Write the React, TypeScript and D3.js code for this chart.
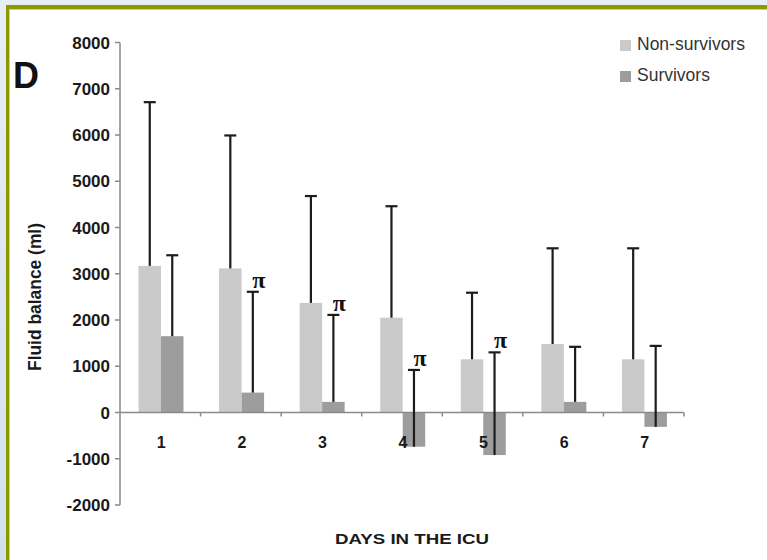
import React from 'react'
import * as d3 from 'd3'

// days in the ICU
const days = ['1', '2', '3', '4', '5', '6', '7']

// mean fluid balance (ml) and mean + SD (top of the error bar)
const nonSurvivors = [3170, 3115, 2370, 2050, 1150, 1480, 1150]
const nonSurvivorsUpper = [6710, 5990, 4680, 4460, 2590, 3550, 3550]
const survivors = [1650, 430, 230, -740, -920, 230, -310]
const survivorsUpper = [3400, 2610, 2110, 920, 1300, 1420, 1440]

// days where survivors differ significantly (π marker)
const significant = ['2', '3', '4', '5']

const yTicks = [8000, 7000, 6000, 5000, 4000, 3000, 2000, 1000, 0, -1000, -2000]

const seriesNames = ['Non-survivors', 'Survivors']
const colors = ['#cacaca', '#9d9d9d']

const W = 767
const H = 560
const FONT = 'Liberation Sans, Arial, sans-serif'

export default function App () {
  const x = d3.scaleBand().domain(days).range([120, 684])
  const y = d3.scaleLinear().domain([-2000, 8000]).range([505, 42.5])
  const inner = d3.scaleBand().domain(seriesNames).range([0, 45])
  const offset = 18.5
  const bw = inner.bandwidth()
  const y0 = y(0)

  const series = [
    { name: seriesNames[0], values: nonSurvivors, upper: nonSurvivorsUpper },
    { name: seriesNames[1], values: survivors, upper: survivorsUpper }
  ]

  const barX = (day: string, name: string) => (x(day) as number) + offset + (inner(name) as number)

  return (
    <svg width={W} height={H} style={{ position: 'absolute', left: 0, top: 0 }} fontFamily={FONT}>
      <defs>
        <linearGradient id='bg' x1='0' y1='0' x2='0' y2='1'>
          <stop offset='0' stopColor='#e8eef5' />
          <stop offset='1' stopColor='#d3e0ec' />
        </linearGradient>
      </defs>
      <rect width={W} height={H} fill='url(#bg)' />
      <rect x={6} y={5} width={W - 6} height={H - 5} fill='#8a9a00' />
      <rect x={9} y={9} width={W - 9} height={H - 9} fill='#c8d480' />
      <rect x={10} y={10} width={W - 10} height={H - 10} fill='#fff' />

      <text x={13} y={88} fontSize={36} fontWeight='bold' fill='#111'>D</text>

      {/* bars */}
      {series.map((s, si) => s.values.map((v, i) => (
        <rect
          key={s.name + i}
          x={barX(days[i], s.name)}
          y={Math.min(y(v), y0)}
          width={bw}
          height={Math.abs(y(v) - y0)}
          fill={colors[si]}
        />
      )))}

      {/* axes */}
      <g stroke='#8a8a8a' strokeWidth={1.5}>
        <line x1={120} x2={120} y1={y(8000)} y2={y(-2000)} />
        {yTicks.map(t => <line key={t} x1={115} x2={120} y1={y(t)} y2={y(t)} />)}
        <line x1={120} x2={684} y1={y0} y2={y0} />
        {days.map(d => {
          const xe = (x(d) as number) + x.bandwidth()
          return <line key={d} x1={xe} x2={xe} y1={y0} y2={y0 + 4} />
        })}
      </g>

      {/* error bars */}
      <g stroke='#1c1c1c' strokeWidth={2.2}>
        {series.map(s => s.values.map((v, i) => {
          const cx = barX(days[i], s.name) + bw / 2
          const top = y(s.upper[i])
          return (
            <g key={s.name + i}>
              <line x1={cx} x2={cx} y1={y(v)} y2={top} />
              <line x1={cx - 6} x2={cx + 6} y1={top} y2={top} />
            </g>
          )
        }))}
      </g>

      {/* significance markers */}
      {days.map((d, i) => significant.includes(d) && (
        <text
          key={d}
          x={barX(d, seriesNames[1]) + bw / 2 + 6}
          y={y(survivorsUpper[i]) - 4}
          fontSize={24}
          fontWeight='bold'
          fontFamily='Liberation Serif, serif'
          fill='#111'
          textAnchor='middle'
        >π</text>
      ))}

      {/* tick labels */}
      {yTicks.map(t => (
        <text key={t} x={110} y={y(t) + 6} textAnchor='end' fontSize={17} fontWeight='bold' fill='#1a1a1a'>
          {t}
        </text>
      ))}
      {days.map(d => (
        <text key={d} x={(x(d) as number) + x.bandwidth() / 2 + 1} y={448} textAnchor='middle' fontSize={16} fontWeight='bold' fill='#1a1a1a'>
          {d}
        </text>
      ))}

      {/* axis titles */}
      <text
        transform='translate(41,297) rotate(-90)'
        textAnchor='middle'
        fontSize={19}
        fontWeight='bold'
        fill='#1a1a1a'
        textLength={148}
        lengthAdjust='spacingAndGlyphs'
      >Fluid balance (ml)</text>
      <text
        x={412}
        y={544}
        textAnchor='middle'
        fontSize={15}
        fontWeight='bold'
        fill='#1a1a1a'
        textLength={154}
        lengthAdjust='spacingAndGlyphs'
      >
        DAYS IN THE ICU
      </text>

      {/* legend */}
      {seriesNames.map((n, i) => (
        <g key={n} transform={`translate(620,${40 + i * 31})`}>
          <rect width={11} height={11} fill={colors[i]} />
          <text x={17} y={10} fontSize={17.5} fill='#333'>{n}</text>
        </g>
      ))}
    </svg>
  )
}
